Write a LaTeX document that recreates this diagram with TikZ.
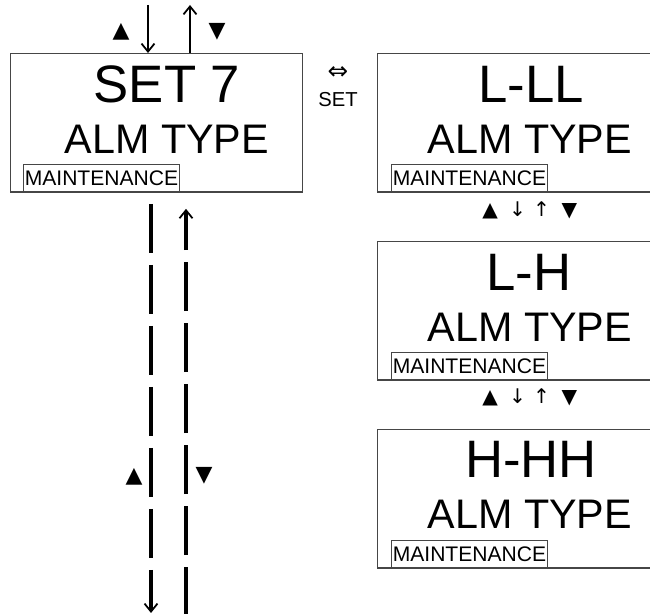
\documentclass[tikz,border=0pt]{standalone}
\usepackage{fontspec}
\setmainfont{Liberation Sans}
\newfontfamily\symfont{DejaVu Sans}
\usetikzlibrary{arrows.meta, positioning, calc}
\definecolor{marcogris}{RGB}{70,70,70}

\begin{document}
\begin{tikzpicture}[x=0.02cm, y=-0.02cm,
    panel/.style={rectangle, draw=marcogris, line width=0.8pt, minimum width=5.84cm, minimum height=2.77cm, inner sep=0pt},
    code/.style={font=\fontsize{30}{30}\selectfont, inner sep=0pt},
    alm/.style={font=\fontsize{23.5}{23.5}\selectfont, inner sep=0pt},
    maint/.style={rectangle, draw=marcogris, line width=0.6pt, minimum width=3.12cm, minimum height=0.56cm, inner sep=0pt, font=\fontsize{12}{12}\selectfont},
    tri/.style={font=\symfont\fontsize{12.5}{12.5}\selectfont, inner sep=0pt},
    fila/.style={font=\symfont\fontsize{11.5}{11.5}\selectfont, inner sep=0pt},
    flecha/.style={-{Straight Barb[length=0.16cm, width=0.26cm]}, line width=1pt},
    tramo/.style={line width=2pt, dash pattern=on 0.98cm off 0.24cm, -{Straight Barb[length=0.16cm, width=0.26cm, line width=1pt]}}
]
\clip (0,0) rectangle (650,614);

\node[panel, anchor=north west] (set7) at (10,53) {};
\node[code] (set7a) at ($(set7.north west)+(157,31)$) {SET 7};
\node[alm] (set7b) at ($(set7.north west)+(157,86)$) {ALM TYPE};
\node[maint, anchor=south west] (set7m) at ($(set7.south west)+(13,0)$) {MAINTENANCE};

\node[panel, anchor=north west] (ll) at (377,53) {};
\node[code] (lla) at ($(ll.north west)+(154,31)$) {L-LL};
\node[alm] (llb) at ($(ll.north west)+(153,86)$) {ALM TYPE};
\node[maint, anchor=south west] (llm) at ($(ll.south west)+(14,0)$) {MAINTENANCE};

\node[panel, below=0.96cm of ll] (lh) {};
\node[code] (lha) at ($(lh.north west)+(152,32)$) {L-H};
\node[alm] (lhb) at ($(lh.north west)+(153,86)$) {ALM TYPE};
\node[maint, anchor=south west] (lhm) at ($(lh.south west)+(14,0)$) {MAINTENANCE};

\node[panel, below=0.96cm of lh] (hh) {};
\node[code] (hha) at ($(hh.north west)+(154,31)$) {H-HH};
\node[alm] (hhb) at ($(hh.north west)+(153,86)$) {ALM TYPE};
\node[maint, anchor=south west] (hhm) at ($(hh.south west)+(14,0)$) {MAINTENANCE};

\node[fila] (paso1) at ($(ll.south)!0.5!(lh.north)+(6,-7)$) {▲\hspace{6.5pt}↓\hspace{4pt}↑\hspace{6.5pt}▼};
\node[fila] (paso2) at ($(lh.south)!0.5!(hh.north)+(6,-7)$) {▲\hspace{6.5pt}↓\hspace{4pt}↑\hspace{6.5pt}▼};

\node[font=\symfont\fontsize{14}{14}\selectfont, inner sep=0pt] (dobles) at (338,73) {⇔};
\node[font=\fontsize{11.5}{11.5}\selectfont, inner sep=0pt] (setk) at (338,100) {SET};

\node[tri] (sube1) at (121,32) {▲};
\node[tri] (baja1) at (217,32) {▼};
\coordinate (entra) at (148,5);
\coordinate (sale) at (190,5);
\draw[flecha] (entra) -- (entra |- set7.north);
\draw[flecha] (sale |- set7.north) -- (sale);

\node[tri] (sube2) at (134,477) {▲};
\node[tri] (baja2) at (204,476) {▼};
\coordinate (abajo) at (151,613);
\coordinate (arriba) at (186,616);
\draw[tramo, shorten <=0.22cm] (abajo |- set7.south) -- (abajo);
\draw[tramo, shorten >=0.32cm] (arriba) -- (arriba |- set7.south);
\end{tikzpicture}
\end{document}
